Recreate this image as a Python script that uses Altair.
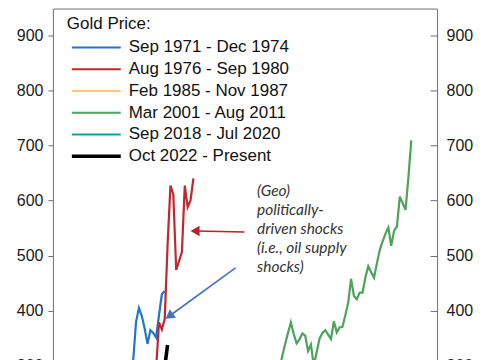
import altair as alt
import pandas as pd

# ---------------- data ----------------
series_names = ["Sep 1971 - Dec 1974", "Aug 1976 - Sep 1980", "Feb 1985 - Nov 1987",
                "Mar 2001 - Aug 2011", "Sep 2018 - Jul 2020", "Oct 2022 - Present"]
series_colors = ["#2176c7", "#c0282f", "#f6c97f", "#4ea35c", "#1c9aa0", "#000000"]
series_widths = [2.2, 2.2, 2.2, 2.2, 2.2, 3.6]

# gold price indexed to 100 at the start of each episode, one value per month
blue = [100, 101, 102, 104, 109, 115, 115, 117, 130, 148,
        156, 160, 156, 155, 150, 152, 155, 177, 201, 215,
        243, 292, 286, 254, 245, 238, 226, 254, 310, 380,
        405, 391, 368, 340, 365, 360, 352, 392, 430, 436]
red = [100, 110, 112, 126, 129, 128, 131, 142, 143, 141,
       135, 138, 139, 144, 153, 156, 154, 166, 171, 177,
       168, 169, 177, 182, 198, 204, 219, 199, 200, 218,
       236, 233, 230, 247, 269, 284, 295, 379, 366, 385,
       520, 627, 611, 474, 490, 507, 627, 588, 600, 640]
yellow = [100, 101, 108, 105, 106, 106, 110, 108, 109, 108,
          107, 115, 113, 115, 113, 114, 114, 116, 125, 139,
          141, 133, 130, 136, 134, 136, 146, 153, 150, 150,
          154, 153, 155, 156]
green = [100, 99, 104, 103, 101, 104, 108, 107, 105, 105,
         107, 113, 112, 115, 119, 122, 119, 118, 121, 120, 121, 126,
         135, 136, 128, 125, 135, 136, 133, 137, 144, 143, 151, 155,
         158, 154, 155, 153, 146, 149, 151, 153, 154, 160, 166, 168,
         161, 162, 164, 162, 160, 164, 162, 167, 174, 179, 181, 194,
         208, 211, 211, 232, 257, 230, 240, 240, 227, 222, 238, 239,
         240, 253, 248, 259, 253, 249, 253, 253,
         275, 292, 318, 340, 360, 379, 358, 341, 348, 359,
         355, 327, 339, 300, 325, 350, 360, 365, 357, 349,
         381, 361, 370, 371, 392, 415, 458, 427, 421, 433,
         433, 461, 481, 470, 460, 486, 510, 526, 540, 551,
         518, 545, 553, 607, 595, 583, 642, 709]
teal = [100, 102, 102, 104, 108, 111, 109, 107, 107, 112,
        118, 126, 126, 124, 122, 123, 130, 133, 132, 140,
        144, 145, 152]
black = [100, 105, 108, 116, 112, 115, 120, 119, 116, 116,
         115, 115, 117, 120, 122, 123, 122, 130, 140, 141,
         139, 144, 149, 155, 160, 158, 158, 164, 175, 180,
         198, 198, 200, 200, 204, 220, 250, 245, 258, 298, 338]

y_ticks = [0, 100, 200, 300, 400, 500, 600, 700, 800, 900]
x_domain = [0, 134]
y_domain = [0, 948]

annot_lines = ["(Geo)", "politically-", "driven shocks", "(i.e., oil supply", "shocks)"]
annot_x = [71.2]
annot_y = [629]

arrow_names = ["red", "blue"]
arrow_colors = ["#c0202a", "#4472c4"]
arrow_tail_x = [66.8, 63.7]
arrow_tail_y = [543, 478]
arrow_head_x = [50.1, 41.0]
arrow_head_y = [544.7, 392]
arrow_angle = [270, 234]

# ---------------- build ----------------
all_series = [blue, red, yellow, green, teal, black]
rows = []
for name, vals in zip(series_names, all_series):
    for m, v in enumerate(vals):
        rows.append({"series": name, "month": m, "value": v})
df = pd.DataFrame(rows)

FONT = "Liberation Sans"
x_scale = alt.Scale(domain=x_domain, nice=False, zero=False)
y_scale = alt.Scale(domain=y_domain, nice=False, zero=False)

legend = alt.Legend(
    title="Gold Price:", orient="none", legendX=14, legendY=7, direction="vertical",
    symbolType="stroke", symbolSize=2401, clipHeight=20, rowPadding=1.8,
    labelOffset=6, symbolOffset=3, titlePadding=5, padding=0,
    labelFontSize=17, titleFontSize=17, titleFontWeight="normal",
    labelFont=FONT, titleFont=FONT, labelColor="#111111", titleColor="#111111",
    labelLimit=400,
)

lines = alt.Chart(df).mark_line().encode(
    x=alt.X("month:Q", scale=x_scale, axis=None),
    y=alt.Y("value:Q", scale=y_scale,
            axis=alt.Axis(orient="left", values=y_ticks, tickSize=5, labelPadding=5,
                          domain=False, grid=False, title=None, labelFontSize=16,
                          labelFont=FONT, labelColor="#1a1a1a", tickColor="#6e6e6e")),
    color=alt.Color("series:N", scale=alt.Scale(domain=series_names, range=series_colors),
                    legend=legend),
    strokeWidth=alt.StrokeWidth("series:N",
                                scale=alt.Scale(type="ordinal", domain=series_names, range=series_widths),
                                legend=legend),
)

ann_df = pd.DataFrame({"month": annot_x, "value": annot_y})
text = alt.Chart(ann_df).mark_text(
    text=annot_lines, align="left", baseline="top", font="Lato", fontStyle="italic",
    fontSize=15.5, lineHeight=19, color="#333333"
).encode(
    x=alt.X("month:Q", scale=x_scale, axis=None),
    y=alt.Y("value:Q", scale=y_scale,
            axis=alt.Axis(orient="right", values=y_ticks, ticks=False, tickSize=0, labelPadding=9,
                          domain=False, grid=False, title=None, labelFontSize=16,
                          labelFont=FONT, labelColor="#1a1a1a")),
)

arr_df = pd.DataFrame({"arrow": arrow_names, "color": arrow_colors,
                       "x1": arrow_tail_x, "y1": arrow_tail_y,
                       "x2": arrow_head_x, "y2": arrow_head_y, "angle": arrow_angle})

shafts = alt.Chart(arr_df).mark_rule(strokeWidth=1.6).encode(
    x=alt.X("x1:Q", scale=x_scale, axis=None),
    y=alt.Y("y1:Q", scale=y_scale,
            axis=alt.Axis(orient="left", offset=-385, values=y_ticks, tickSize=7, labels=False,
                          domain=False, grid=False, title=None, tickColor="#6e6e6e")),
    x2="x2:Q", y2="y2:Q",
    color=alt.Color("color:N", scale=None),
)

heads = alt.Chart(arr_df).mark_point(shape="triangle", filled=True, size=110, opacity=1).encode(
    x=alt.X("x2:Q", scale=x_scale, axis=None),
    y=alt.Y("y2:Q", scale=y_scale, axis=None),
    angle=alt.Angle("angle:Q", scale=None),
    color=alt.Color("color:N", scale=None),
)

chart = alt.layer(lines, text, shafts, heads).resolve_axis(y="independent").properties(
    width=385, height=524,
    autosize=alt.AutoSizeParams(type="none"),
    padding={"left": 45, "top": 0, "right": 40, "bottom": 10},
).configure_view(stroke="#6e6e6e", strokeWidth=1)

chart.save("out.html", embed_options={"renderer": "svg", "actions": False})
